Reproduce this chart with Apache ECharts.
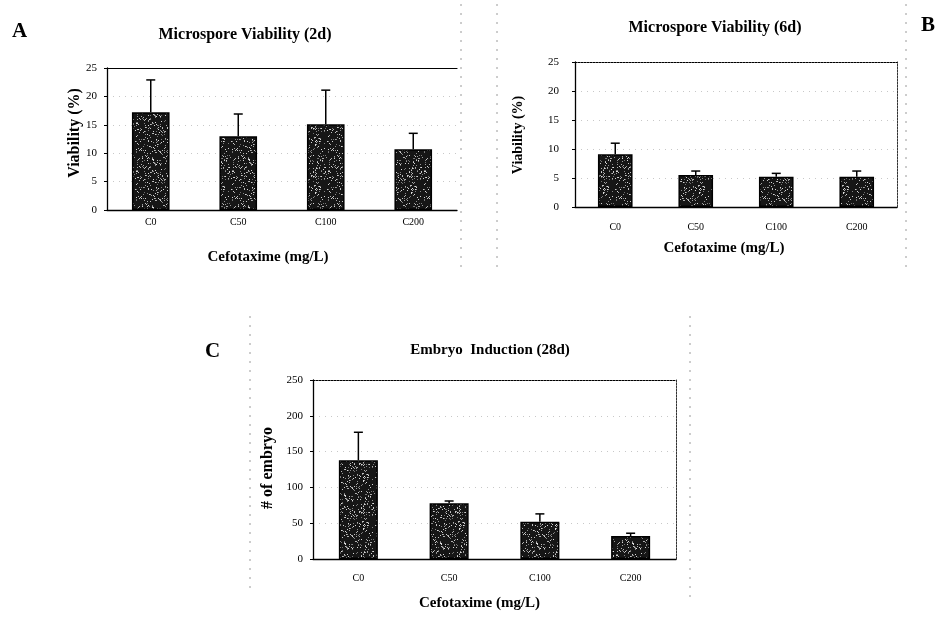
<!DOCTYPE html>
<html><head><meta charset="utf-8">
<script src="https://cdn.jsdelivr.net/npm/echarts@6/dist/echarts.min.js"></script>
<style>html,body{margin:0;padding:0;background:#fff}#c{width:941px;height:620px}</style>
</head><body><div id="c"></div>
<script>
// ---- data ----
const categories = ['C0', 'C50', 'C100', 'C200'];
const viability2d = [17.2, 13.0, 15.1, 10.7];
const viability2dSD = [5.7, 3.9, 6.0, 2.8];
const viability6d = [9.1, 5.5, 5.2, 5.2];
const viability6dSD = [1.9, 0.7, 0.6, 1.0];
const embryo28d = [138, 78, 52, 32];
const embryo28dSD = [39, 3, 11, 4];
const yTicksViability = [0, 5, 10, 15, 20, 25];
const yTicksEmbryo = [0, 50, 100, 150, 200, 250];
const titles = ['Microspore Viability (2d)', 'Microspore Viability (6d)', 'Embryo  Induction (28d)'];
const xName = 'Cefotaxime (mg/L)';
const yNames = ['Viability (%)', 'Viability (%)', '# of embryo'];

// ---- speckled texture for bars (deterministic) ----
function makePattern() {
  const cv = document.createElement('canvas');
  cv.width = 48; cv.height = 48;
  const ctx = cv.getContext('2d');
  ctx.fillStyle = '#161616';
  ctx.fillRect(0, 0, 48, 48);
  for (let y = 0; y < 48; y++) {
    for (let x = 0; x < 48; x++) {
      const h = ((x * 73856093) ^ (y * 19349663)) >>> 0;
      const v = h % 100;
      if (v < 13) {
        const g = 110 + (h % 120);
        ctx.fillStyle = 'rgb(' + g + ',' + g + ',' + g + ')';
        ctx.fillRect(x, y, 1, 1);
      }
    }
  }
  return cv;
}
const pattern = { image: makePattern(), repeat: 'repeat' };

const serif = 'Liberation Serif';
const chart = echarts.init(document.getElementById('c'), null, { renderer: 'canvas' });

const grids = [
  { left: 107, top: 68, width: 350, height: 142 },
  { left: 575, top: 62, width: 322, height: 145 },
  { left: 313, top: 380, width: 363, height: 179 }
];
const yMax = [25, 25, 250];
const yInt = [5, 5, 50];
const labelMargins = [7, 15, 14];
const tickMargins = [10, 16, 10];
const yNameSizes = [16, 14, 16];
const yNamePos = [[75, 133], [518, 135], [268, 468]];
const xNameGaps = [40, 34, 37];
const xNameShift = [28, 24, 30];
const topSolid = [true, false, false];
const showRight = [false, true, true];

const xAxes = [], yAxes = [], series = [];
const means = [viability2d, viability6d, embryo28d];
const sds = [viability2dSD, viability6dSD, embryo28dSD];

for (let i = 0; i < 3; i++) {
  xAxes.push({
    type: 'category', gridIndex: i, data: categories, position: 'bottom',
    axisLine: { lineStyle: { color: '#000', width: 1.3 } },
    axisTick: { show: false },
    axisLabel: { fontFamily: serif, fontSize: 10, color: '#000', margin: labelMargins[i] },
    name: xName, nameLocation: 'middle', nameGap: xNameGaps[i],
    nameTextStyle: { fontFamily: serif, fontSize: 15, fontWeight: 'bold', color: '#000', padding: [0, xNameShift[i], 0, 0] }
  });
  yAxes.push({
    type: 'value', gridIndex: i, min: 0, max: yMax[i], interval: yInt[i],
    axisLine: { show: true, lineStyle: { color: '#000', width: 1.3 } },
    axisTick: { show: true, length: 3, lineStyle: { color: '#000' } },
    axisLabel: { fontFamily: serif, fontSize: 11, color: '#000', margin: tickMargins[i] },
    splitLine: { show: true, lineStyle: { type: [1, 5], color: '#c8c8c8', width: 1 } }
  });
}
// frame axes (top & right)
for (let i = 0; i < 3; i++) {
  xAxes.push({
    type: 'category', gridIndex: i, data: categories, position: 'top',
    axisLine: { onZero: false, lineStyle: { color: '#000', width: topSolid[i] ? 1.2 : 1, type: topSolid[i] ? 'solid' : [2, 1] } },
    axisTick: { show: false }, axisLabel: { show: false }
  });
  yAxes.push({
    type: 'value', gridIndex: i, min: 0, max: yMax[i], interval: yInt[i], position: 'right',
    axisLine: { show: showRight[i], onZero: false, lineStyle: { color: '#333', width: 1, type: [2, 1] } },
    axisTick: { show: false }, axisLabel: { show: false }, splitLine: { show: false }
  });
}

for (let i = 0; i < 3; i++) {
  series.push({
    type: 'bar', xAxisIndex: i, yAxisIndex: i, data: means[i], barWidth: '43%',
    itemStyle: { color: pattern, borderColor: '#000', borderWidth: 1.5 },
    silent: true, z: 2
  });
  const errData = means[i].map((m, k) => [k, m, m + sds[i][k]]);
  series.push({
    type: 'custom', xAxisIndex: i, yAxisIndex: i, data: errData, z: 3, silent: true,
    renderItem: function (params, api) {
      const base = api.coord([api.value(0), api.value(1)]);
      const top = api.coord([api.value(0), api.value(2)]);
      const cap = 4.5;
      return {
        type: 'group',
        children: [
          { type: 'line', shape: { x1: base[0], y1: base[1], x2: top[0], y2: top[1] }, style: { stroke: '#000', lineWidth: 1.5 } },
          { type: 'line', shape: { x1: top[0] - cap, y1: top[1], x2: top[0] + cap, y2: top[1] }, style: { stroke: '#000', lineWidth: 1.5 } }
        ]
      };
    }
  });
}

const titleStyle = { fontFamily: serif, fontSize: 16, fontWeight: 'bold', color: '#000' };
const letterStyle = { fontFamily: serif, fontSize: 21, fontWeight: 'bold', color: '#000' };

const dash = { stroke: '#9a9a9a', lineWidth: 1, lineDash: [2, 7] };
const graphics = [
  { type: 'line', shape: { x1: 461, y1: 4, x2: 461, y2: 272 }, style: dash, silent: true },
  { type: 'line', shape: { x1: 497, y1: 4, x2: 497, y2: 272 }, style: dash, silent: true },
  { type: 'line', shape: { x1: 906, y1: 4, x2: 906, y2: 272 }, style: dash, silent: true },
  { type: 'line', shape: { x1: 250, y1: 316, x2: 250, y2: 592 }, style: dash, silent: true },
  { type: 'line', shape: { x1: 690, y1: 316, x2: 690, y2: 600 }, style: dash, silent: true }
];
for (let i = 0; i < 3; i++) {
  graphics.push({
    type: 'text', x: yNamePos[i][0], y: yNamePos[i][1], rotation: Math.PI / 2, silent: true,
    style: {
      text: yNames[i], fill: '#000', align: 'center', verticalAlign: 'middle',
      font: 'bold ' + yNameSizes[i] + 'px "' + serif + '"'
    }
  });
}

chart.setOption({
  animation: false,
  backgroundColor: '#fff',
  grid: grids,
  xAxis: xAxes,
  yAxis: yAxes,
  series: series,
  title: [
    { text: titles[0], left: 240, top: 22, textAlign: 'center', textStyle: titleStyle },
    { text: titles[1], left: 710, top: 15, textAlign: 'center', textStyle: titleStyle },
    { text: titles[2], left: 485, top: 338, textAlign: 'center', textStyle: Object.assign({}, titleStyle, { fontSize: 15 }) },
    { text: 'A', left: 7, top: 16, textStyle: letterStyle },
    { text: 'B', left: 916, top: 10, textStyle: letterStyle },
    { text: 'C', left: 200, top: 336, textStyle: letterStyle }
  ],
  graphic: graphics
});
</script></body></html>
